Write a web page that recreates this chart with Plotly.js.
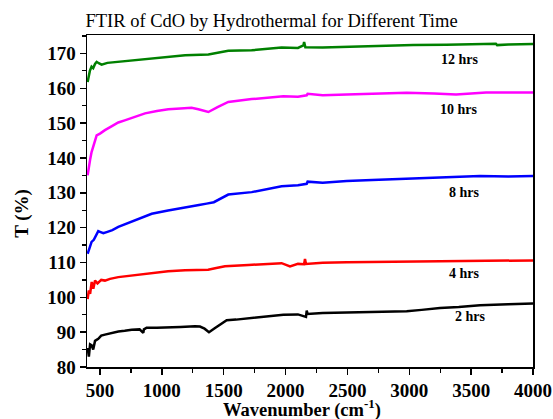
<!DOCTYPE html>
<html>
<head>
<meta charset="utf-8">
<script src="https://cdn.plot.ly/plotly-3.0.1.min.js"></script>
<style>html,body{margin:0;padding:0;background:#fff;}#chart{width:553px;height:419px;}</style>
</head>
<body>
<div id="chart"></div>
<script>
// 2 hrs
const wn2 = [400,410,420,433,445,460,486,510,540,600,648,700,756,820,850,855,877,960,1052,1150,1268,1308,1345,1381,1430,1480,1524,1600,1726,1850,1982,2100,2165,2171,2178,2300,2494,2700,2979,3100,3248,3400,3572,3800,4000];
const t2  = [85.5,83,86.5,86.2,85,87.5,88.1,89,89.3,89.8,90.2,90.4,90.7,90.8,89.8,90.8,91.3,91.3,91.3,91.5,91.7,91.6,91,90.0,91.2,92.4,93.4,93.6,94.0,94.5,95.0,95.1,94.4,96.2,95.2,95.5,95.7,95.8,96.0,96.4,96.9,97.2,97.7,98.0,98.2];
// 4 hrs
const wn4 = [400,410,420,433,446,460,480,510,540,581,648,750,918,1050,1188,1300,1374,1440,1510,1700,1968,2036,2100,2150,2157,2165,2300,2494,2800,3032,3500,4000];
const t4  = [99.5,102,101,104.4,102.5,104.8,104,105,104.8,105.3,105.8,106.2,106.8,107.5,107.8,107.9,107.9,108.4,108.9,109.3,109.8,108.9,109.6,109.5,111,109.6,109.9,110.1,110.2,110.3,110.5,110.6];
// 8 hrs
const wn8 = [400,415,432,450,470,486,500,527,560,600,648,750,918,1050,1188,1300,1362,1420,1537,1726,1968,2100,2171,2178,2300,2494,2700,2979,3200,3400,3572,3800,4000];
const t8  = [112.5,114,115.9,116.5,118,119.0,118.8,118.4,118.8,119.3,120.2,121.7,124.0,124.9,125.9,126.5,126.9,127.3,129.5,130.2,131.9,132.2,132.6,133.2,132.9,133.4,133.7,134.1,134.3,134.5,134.8,134.7,134.8];
// 10 hrs
const wn10 = [400,410,420,432,450,473,500,540,600,648,700,783,864,960,1052,1150,1240,1295,1340,1376,1450,1537,1726,1982,2100,2171,2178,2300,2494,2700,2979,3200,3378,3500,3621,3800,4000];
const t10  = [135,138,139.5,141.7,144,146.5,147,148.0,149.2,150.2,150.8,151.8,152.8,153.5,154.0,154.2,154.4,154.0,153.5,153.2,154.6,156.1,156.9,157.7,157.6,158.0,158.4,158.0,158.2,158.4,158.7,158.5,158.2,158.5,158.8,158.8,158.8];
// 12 hrs
const wn12 = [400,408,418,432,445,460,473,490,513,560,648,750,918,1050,1188,1376,1450,1537,1726,1968,2100,2144,2150,2160,2300,2494,2700,3032,3300,3600,3700,3710,3800,4000];
const t12  = [161.8,163.5,165,166.2,165.8,167,167.6,167.2,166.8,167.3,167.6,168.0,168.7,169.1,169.5,169.7,170.2,170.8,170.9,171.7,171.6,172.3,173.3,171.8,171.7,171.9,172.1,172.4,172.5,172.6,172.8,172.4,172.6,172.7];

const seriesNames = ['2 hrs','4 hrs','8 hrs','10 hrs','12 hrs'];
const labelX = [3497,3443,3447,3403,3411];
const labelY = [94.4,106.8,130.0,154.0,168.3];

const xs = [wn2,wn4,wn8,wn10,wn12];
const ys = [t2,t4,t8,t10,t12];
const colors = ['#000000','#ff0000','#0000ff','#ff00ff','#008000'];

const serif = '"Liberation Serif", "Times New Roman", Times, "DejaVu Serif", serif';
const traces = xs.map((x,i)=>({x:x,y:ys[i],type:'scatter',mode:'lines',name:seriesNames[i],
  line:{color:colors[i],width:2.5},hoverinfo:'skip'}));

const ann = seriesNames.map((n,i)=>({x:labelX[i],y:labelY[i],xref:'x',yref:'y',text:'<b>'+n+'</b>',
  showarrow:false,font:{family:serif,size:14,color:'#000'},xanchor:'center',yanchor:'middle'}));
ann.push({x:0.482,y:-0.124,xref:'paper',yref:'paper',text:'<b>Wavenumber (cm<sup>-1</sup>)</b>',showarrow:false,
  font:{family:serif,size:18.5,color:'#000'},xanchor:'center',yanchor:'middle'});
ann.push({x:-0.146,y:0.464,xref:'paper',yref:'paper',text:'<b>T (%)</b>',textangle:-90,showarrow:false,
  font:{family:serif,size:19,color:'#000'},xanchor:'center',yanchor:'middle'});

const layout = {
  width:553,height:419,
  margin:{l:87,r:20,t:35,b:52},
  paper_bgcolor:'#fff',plot_bgcolor:'#fff',
  showlegend:false,
  font:{family:serif,color:'#000'},
  title:{text:'FTIR of CdO by Hydrothermal for Different Time',font:{family:serif,size:18.5,color:'#000'},
    xref:'container',yref:'container',x:0.491,xanchor:'center',y:0.952,yanchor:'middle'},
  xaxis:{range:[395,4000],tick0:500,dtick:500,ticks:'outside',ticklen:6,tickwidth:1.5,tickcolor:'#000',
    showline:true,linecolor:'#000',linewidth:1.5,mirror:true,showgrid:false,zeroline:false,
    tickfont:{family:serif,size:19,color:'#000'},tickprefix:'<b>',ticksuffix:'</b>',
    minor:{dtick:250,tick0:250,ticks:'outside',ticklen:4,tickwidth:1.2,tickcolor:'#000',showgrid:false}},
  yaxis:{range:[80,175.3],tick0:80,dtick:10,ticks:'outside',ticklen:6,tickwidth:1.5,tickcolor:'#000',
    showline:true,linecolor:'#000',linewidth:1.5,mirror:true,showgrid:false,zeroline:false,
    tickfont:{family:serif,size:19,color:'#000'},tickprefix:'<b>',ticksuffix:'</b>',
    minor:{dtick:5,tick0:75,ticks:'outside',ticklen:4,tickwidth:1.2,tickcolor:'#000',showgrid:false}},
  annotations:ann
};
Plotly.newPlot('chart',traces,layout,{staticPlot:true,displayModeBar:false});
</script>
</body>
</html>
